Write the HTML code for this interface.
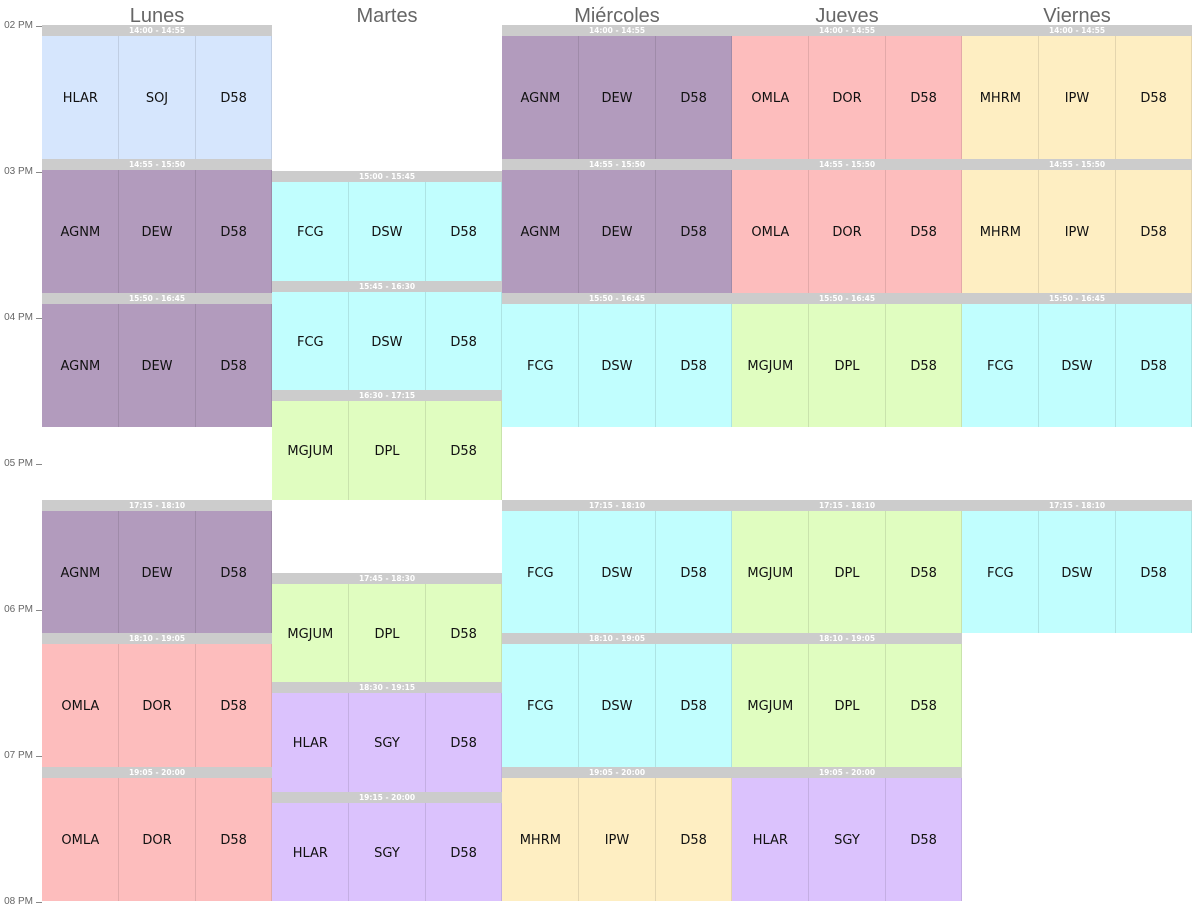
<!DOCTYPE html>
<html><head><meta charset="utf-8"><style>
body{margin:0;width:1196px;height:910px;background:#fff;position:relative;overflow:hidden;font-family:"DejaVu Sans","Liberation Sans",sans-serif}
.day{position:absolute;top:5px;width:230px;text-align:center;font-family:"Liberation Sans",sans-serif;font-size:20px;color:#666}
.tl{position:absolute;left:0;width:33px;text-align:right;font-size:10px;color:#666;font-family:"Liberation Sans",sans-serif}
.tk{position:absolute;left:36px;width:6px;height:1px;background:#888}
.blk{position:absolute;box-sizing:border-box}
.hd{position:absolute;left:0;right:0;top:0;height:11px;background:#ccc;color:#fff;font-size:7.5px;font-weight:bold;text-align:center;line-height:11px}
.c{position:absolute;top:13px;bottom:0;display:flex;align-items:center;justify-content:center;font-size:13px;color:#111;box-sizing:border-box}
.v{position:absolute;top:11px;bottom:0;width:1px;background:rgba(0,0,0,0.1)}
</style></head><body>
<div id="root"></div>
<script>
var days=["Lunes","Martes","Miércoles","Jueves","Viernes"];
var col={b:"#d6e6fd",p:"#b29bbd",c:"#c1fefe",k:"#fdbdbd",y:"#feeec2",g:"#e0fdc0",l:"#dbc2fd"};
var data=[
[["14:00","14:55","HLAR","SOJ","b"],["14:55","15:50","AGNM","DEW","p"],["15:50","16:45","AGNM","DEW","p"],["17:15","18:10","AGNM","DEW","p"],["18:10","19:05","OMLA","DOR","k"],["19:05","20:00","OMLA","DOR","k"]],
[["15:00","15:45","FCG","DSW","c"],["15:45","16:30","FCG","DSW","c"],["16:30","17:15","MGJUM","DPL","g"],["17:45","18:30","MGJUM","DPL","g"],["18:30","19:15","HLAR","SGY","l"],["19:15","20:00","HLAR","SGY","l"]],
[["14:00","14:55","AGNM","DEW","p"],["14:55","15:50","AGNM","DEW","p"],["15:50","16:45","FCG","DSW","c"],["17:15","18:10","FCG","DSW","c"],["18:10","19:05","FCG","DSW","c"],["19:05","20:00","MHRM","IPW","y"]],
[["14:00","14:55","OMLA","DOR","k"],["14:55","15:50","OMLA","DOR","k"],["15:50","16:45","MGJUM","DPL","g"],["17:15","18:10","MGJUM","DPL","g"],["18:10","19:05","MGJUM","DPL","g"],["19:05","20:00","HLAR","SGY","l"]],
[["14:00","14:55","MHRM","IPW","y"],["14:55","15:50","MHRM","IPW","y"],["15:50","16:45","FCG","DSW","c"],["17:15","18:10","FCG","DSW","c"]]];
function Y(t){var a=t.split(":");return 25+146*((+a[0]-14)+(+a[1])/60);}
var h="";
days.forEach(function(d,i){h+='<div class="day" style="left:'+(42+230*i)+'px">'+d+'</div>';});
["02","03","04","05","06","07","08"].forEach(function(t,i){var y=25+146*i;h+='<div class="tl" style="top:'+(y-5)+'px">'+t+' PM</div><div class="tk" style="top:'+(y+1)+'px"></div>';});
data.forEach(function(arr,i){var x=42+230*i;arr.forEach(function(b){
var y0=Math.round(Y(b[0])),y1=Math.round(Y(b[1]));var bg=col[b[4]];
h+='<div class="blk" style="left:'+x+'px;top:'+y0+'px;width:230px;height:'+(y1-y0)+'px;background:'+bg+'"><div class="hd">'+b[0]+' - '+b[1]+'</div>';
var n=[b[2],b[3],"D58"];
for(var k=0;k<3;k++){h+='<div class="c" style="left:'+(k*76.67)+'px;width:76.67px">'+n[k]+'</div>';}
h+='<div class="v" style="left:76px"></div><div class="v" style="left:153px"></div><div class="v" style="left:229px"></div>';
h+='</div>';});});
document.getElementById("root").innerHTML=h;
</script>
</body></html>
